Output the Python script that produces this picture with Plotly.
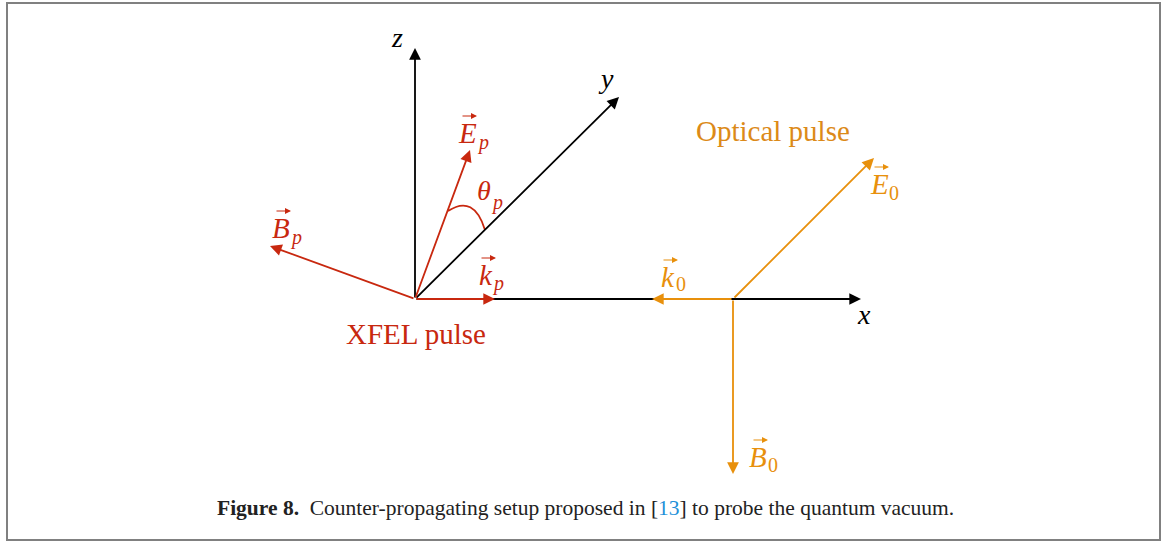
import plotly.graph_objects as go

W, H = 1165, 542

# ---- diagram data (pixel coordinates of the drawing plane) ----
origin_xfel = (415, 299)
origin_opt = (733, 299)

axis_names = ["x", "y", "z"]
axis_tips = [(861, 299), (619, 97), (415, 48)]
axis_label_pos = [(864, 314), (606, 78), (397, 37)]

xfel_names = ["E", "B", "k"]
xfel_tips = [(470, 150), (270, 246), (495, 299)]
xfel_letter_pos = [(467, 133), (281, 228), (486, 275)]
xfel_sub_pos = [(483, 142), (296, 237), (498, 283)]

opt_names = ["E", "B", "k"]
opt_tips = [(874, 158), (733, 474), (652, 299)]
opt_letter_pos = [(879, 184), (758, 457), (668, 277)]
opt_sub_pos = [(894, 193), (773, 465), (681, 284)]

theta_arc = [(448, 211), (474, 194), (485, 230)]  # start, control, end
theta_letter_pos = (484, 190)
theta_sub_pos = (497, 202)

pulse_labels = ["XFEL pulse", "Optical pulse"]
pulse_label_pos = [(416, 334), (773, 131)]

caption_bold = "Figure 8."
caption_text = "Counter-propagating setup proposed in ["
caption_ref = "13"
caption_end = "] to probe the quantum vacuum."
caption_pos = (585, 508)

RED = "#C8280F"
ORANGE = "#E8900C"
BLACK = "#000000"
MATH_FONT = "Liberation Serif"

fig = go.Figure()
ann = []


def arrow(tail, tip, color, width=1.8, size=1.3):
    ann.append(dict(x=tip[0], y=tip[1], ax=tail[0], ay=tail[1],
                    xref="x", yref="y", axref="x", ayref="y",
                    text="", showarrow=True, arrowhead=2, arrowsize=size,
                    arrowwidth=width, arrowcolor=color, standoff=0, startstandoff=0))


def label(pos, text, color, size=28, family=MATH_FONT):
    ann.append(dict(x=pos[0], y=pos[1], xref="x", yref="y", text=text,
                    showarrow=False, xanchor="center", yanchor="middle",
                    font=dict(family=family, size=size, color=color)))


def vec_label(letter_pos, sub_pos, letter, sub, color):
    label(letter_pos, "<i>%s</i>" % letter, color, size=29)
    label(sub_pos, sub, color, size=20)
    ytop = letter_pos[1] - 17
    arrow((letter_pos[0] - 6, ytop), (letter_pos[0] + 10, ytop), color, width=1.2, size=1.0)


# axes
for name, tip, lp in zip(axis_names, axis_tips, axis_label_pos):
    arrow(origin_xfel, tip, BLACK)
    label(lp, "<i>%s</i>" % name, BLACK, size=28)

# optical pulse vectors
for name, tip, lp, sp in zip(opt_names, opt_tips, opt_letter_pos, opt_sub_pos):
    arrow(origin_opt, tip, ORANGE)
    vec_label(lp, sp, name, "0", ORANGE)

# XFEL vectors
for name, tip, lp, sp in zip(xfel_names, xfel_tips, xfel_letter_pos, xfel_sub_pos):
    arrow(origin_xfel, tip, RED)
    vec_label(lp, sp, name, "<i>p</i>", RED)

# theta arc
(s, c, e) = theta_arc
fig.add_shape(type="path",
              path="M %g %g Q %g %g %g %g" % (s[0], s[1], c[0], c[1], e[0], e[1]),
              xref="x", yref="y", line=dict(color=RED, width=1.8))
label(theta_letter_pos, "<i>θ</i>", RED, size=28)
label(theta_sub_pos, "<i>p</i>", RED, size=20)

label(pulse_label_pos[0], pulse_labels[0], RED, size=29)
label(pulse_label_pos[1], pulse_labels[1], "#DC8A18", size=29)

# caption
ann.append(dict(x=caption_pos[0], y=caption_pos[1], xref="x", yref="y",
                showarrow=False, xanchor="center", yanchor="middle",
                text="<b>%s</b>  %s<span style='color:#1E90D8'>%s</span>%s"
                     % (caption_bold, caption_text, caption_ref, caption_end),
                font=dict(family="Liberation Serif", size=21.5, color="#222222")))

# frame
fig.add_shape(type="rect", x0=7, y0=3, x1=1160, y1=540, xref="x", yref="y",
              line=dict(color="#808080", width=2))

fig.update_layout(
    width=W, height=H, margin=dict(l=0, r=0, t=0, b=0),
    paper_bgcolor="white", plot_bgcolor="white",
    xaxis=dict(range=[0, W], visible=False, fixedrange=True),
    yaxis=dict(range=[H, 0], visible=False, fixedrange=True),
    annotations=ann, showlegend=False,
)

fig.write_html("out.html", config={"displayModeBar": False},
               post_script="document.body.style.margin='0px';"
                           "document.body.style.overflow='hidden';")
